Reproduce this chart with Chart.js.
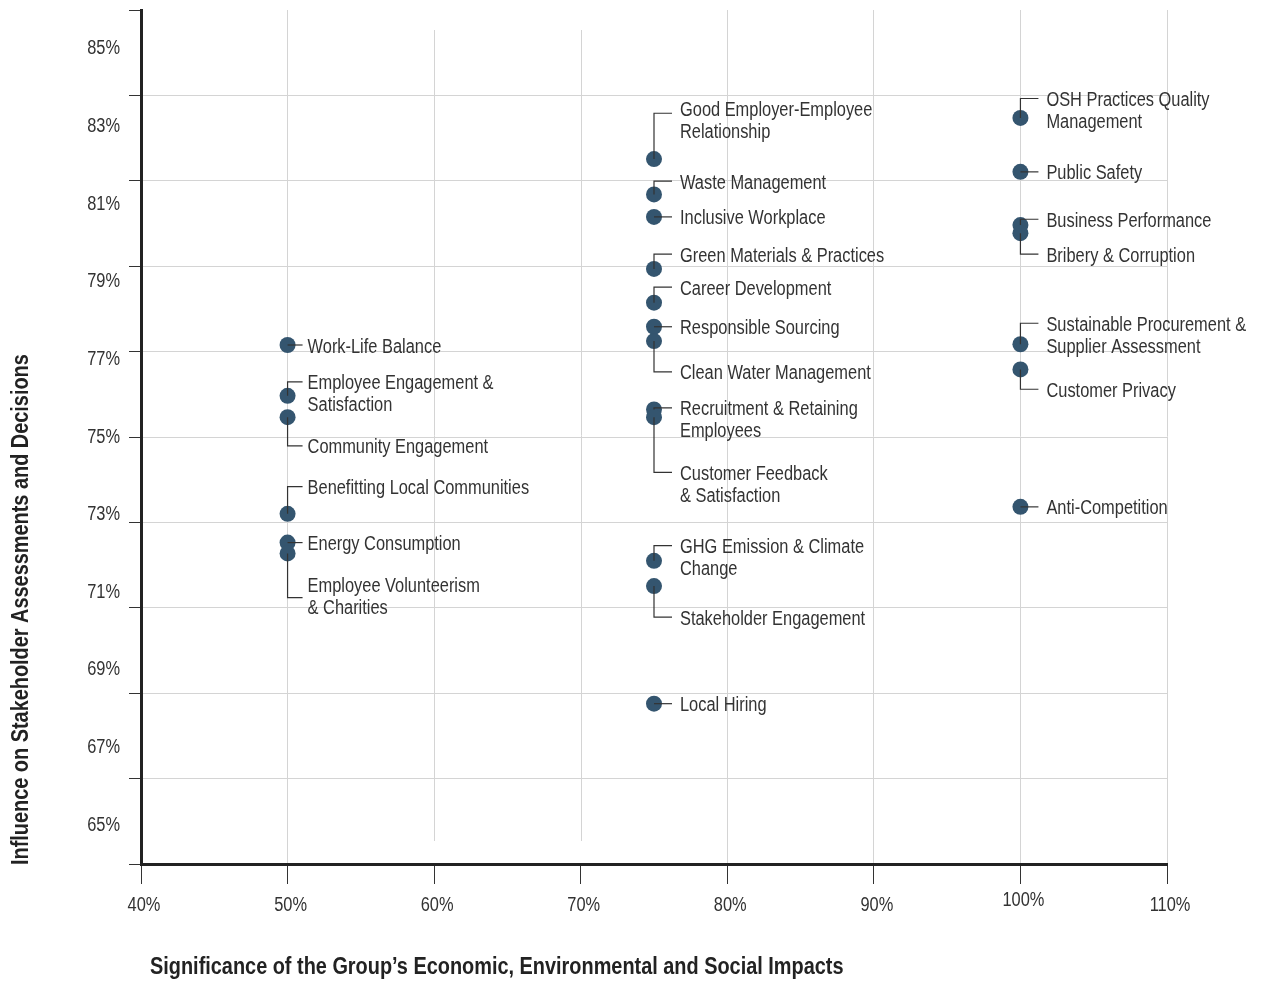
<!DOCTYPE html>
<html>
<head>
<meta charset="utf-8">
<script src="https://cdn.jsdelivr.net/npm/chart.js@4.4.1/dist/chart.umd.min.js"></script>
<style>
  html, body { margin: 0; padding: 0; background: #fff; }
  #wrap { width: 1261px; height: 981px; position: relative; }
</style>
</head>
<body>
<div id="wrap"><canvas id="chart"></canvas></div>
<script>
// ================= DATA =================
const topics = [
  "Work-Life Balance",
  "Employee Engagement &\nSatisfaction",
  "Community Engagement",
  "Benefitting Local Communities",
  "Energy Consumption",
  "Employee Volunteerism\n& Charities",
  "Good Employer-Employee\nRelationship",
  "Waste Management",
  "Inclusive Workplace",
  "Green Materials & Practices",
  "Career Development",
  "Responsible Sourcing",
  "Clean Water Management",
  "Recruitment & Retaining\nEmployees",
  "Customer Feedback\n& Satisfaction",
  "GHG Emission & Climate\nChange",
  "Stakeholder Engagement",
  "Local Hiring",
  "OSH Practices Quality\nManagement",
  "Public Safety",
  "Business Performance",
  "Bribery & Corruption",
  "Sustainable Procurement &\nSupplier Assessment",
  "Customer Privacy",
  "Anti-Competition"
];

// significance of impacts (x, %)
const significance = [
  50, 50, 50, 50, 50, 50,
  75, 75, 75, 75, 75, 75, 75, 75, 75, 75, 75, 75,
  100, 100, 100, 100, 100, 100, 100
];

// influence on stakeholders (y, %)
const influence = [
  77.37, 76.06, 75.51, 73.02, 72.28, 72.00,
  82.16, 81.25, 80.67, 79.33, 78.46, 77.84, 77.47, 75.71, 75.51, 71.81, 71.16, 68.13,
  83.22, 81.83, 80.46, 80.25, 77.39, 76.74, 73.20
];

// where each callout label sits (y, %)
const labelAt = [
  77.37, 76.42, 74.77, 73.72, 72.28, 70.86,
  83.34, 81.59, 80.67, 79.71, 78.86, 77.84, 76.68, 75.75, 74.09, 72.20, 70.36, 68.13,
  83.72, 81.83, 80.61, 79.71, 77.93, 76.23, 73.20
];

const xTicks = [40, 50, 60, 70, 80, 90, 100, 110];
const yTickLabels = [65, 67, 69, 71, 73, 75, 77, 79, 81, 83, 85];
const yGridLines = [64, 66.2, 68.4, 70.6, 72.8, 75, 77.2, 79.4, 81.6, 83.8, 86];

const xTitle = "Significance of the Group\u2019s Economic, Environmental and Social Impacts";
const yTitle = "Influence on Stakeholder Assessments and Decisions";

// ================= STYLE =================
// no condensed font installed -> squeeze Liberation Sans horizontally
const FONT = "'Liberation Sans', Arial, sans-serif";
const SQUEEZE = 0.82;
const TEXT = "#333";
const GRID = "#d4d4d4";
const DOT = "#34556f";
const labelNudge = {
  "Employee Volunteerism\n& Charities": -13,
  "Good Employer-Employee\nRelationship": -5
};
// connector length / text offset per column
const calloutGap = { 50: [15, 20], 75: [18, 26], 100: [18, 26] };
const xTickNudge = { 100: -5 };

const near = (a, b) => Math.abs(a - b) < 0.001;
const isGridY = v => yGridLines.some(g => near(g, v));

const allY = [...new Set([...yGridLines, ...yTickLabels])].sort((a, b) => a - b);

function narrowText(ctx, text, x, y, align, font, squeeze) {
  ctx.save();
  ctx.font = font;
  ctx.textBaseline = "middle";
  ctx.textAlign = align;
  ctx.translate(x, y);
  ctx.scale(squeeze, 1);
  ctx.fillText(text, 0, 0);
  ctx.restore();
}

// ================= PLUGINS =================
const decorPlugin = {
  id: "decor",
  beforeDatasetsDraw(chart) {
    const { ctx, chartArea, scales: { x } } = chart;
    // the 60% / 70% gridlines are shorter in the original
    ctx.save();
    ctx.strokeStyle = GRID;
    ctx.lineWidth = 1;
    [60, 70].forEach(v => {
      const px = Math.round(x.getPixelForValue(v)) + 0.5;
      ctx.beginPath();
      ctx.moveTo(px, chartArea.top + 20);
      ctx.lineTo(px, chartArea.bottom - 23);
      ctx.stroke();
    });
    ctx.restore();
  },
  afterDatasetsDraw(chart) {
    const { ctx, scales: { x, y } } = chart;
    ctx.save();
    ctx.strokeStyle = TEXT;
    ctx.lineWidth = 1.2;
    ctx.fillStyle = TEXT;
    topics.forEach((name, i) => {
      const px = x.getPixelForValue(significance[i]);
      const py = y.getPixelForValue(influence[i]);
      const ly = y.getPixelForValue(labelAt[i]);
      const [lineLen, textOff] = calloutGap[significance[i]];
      ctx.beginPath();
      ctx.moveTo(px, py);
      ctx.lineTo(px, ly);
      ctx.lineTo(px + lineLen, ly);
      ctx.stroke();
      const ty = ly + 2 + (labelNudge[name] || 0);
      name.split("\n").forEach((line, k) =>
        narrowText(ctx, line, px + textOff, ty + k * 22, "left", "20px " + FONT, SQUEEZE));
    });
    ctx.restore();
  },
  afterDraw(chart) {
    const { ctx, chartArea, scales: { x, y } } = chart;
    ctx.save();
    // tick labels
    ctx.fillStyle = TEXT;
    yTickLabels.forEach(v =>
      narrowText(ctx, v + "%", chartArea.left - 21, y.getPixelForValue(v), "right", "20px " + FONT, SQUEEZE));
    xTicks.forEach(v =>
      narrowText(ctx, v + "%", x.getPixelForValue(v) + 3, chartArea.bottom + 41 + (xTickNudge[v] || 0), "center", "20px " + FONT, SQUEEZE));
    // axis titles
    ctx.fillStyle = "#222";
    narrowText(ctx, xTitle, chartArea.left + 9, 968, "left", "bold 23px " + FONT, 0.865);
    ctx.translate(22, chartArea.bottom + 1);
    ctx.rotate(-Math.PI / 2);
    narrowText(ctx, yTitle, 0, 0, "left", "bold 23px " + FONT, 0.865);
    ctx.restore();
  }
};

// ================= CHART =================
const ctx = document.getElementById("chart").getContext("2d");

new Chart(ctx, {
  type: "scatter",
  data: {
    datasets: [{
      data: topics.map((t, i) => ({ x: significance[i], y: influence[i] })),
      pointRadius: 8,
      pointHoverRadius: 8,
      backgroundColor: DOT,
      borderWidth: 0
    }]
  },
  options: {
    responsive: true,
    maintainAspectRatio: false,
    animation: false,
    events: [],
    layout: { padding: { top: 10, right: 94, left: 0, bottom: 0 } },
    plugins: { legend: { display: false }, tooltip: { enabled: false } },
    scales: {
      x: {
        type: "linear",
        min: 40,
        max: 110,
        afterBuildTicks: s => { s.ticks = xTicks.map(v => ({ value: v })); },
        afterFit: s => { s.height = 117; },
        grid: {
          color: c => (c.tick && [40, 60, 70].includes(c.tick.value)) ? "rgba(0,0,0,0)" : GRID,
          tickColor: "#333",
          tickLength: 20,
          lineWidth: 1
        },
        border: { color: "#222", width: 3 },
        ticks: { display: false }
      },
      y: {
        min: 64,
        max: 86,
        afterBuildTicks: s => { s.ticks = allY.map(v => ({ value: v })); },
        afterFit: s => { s.width = 141; },
        grid: {
          color: c => {
            if (!c.tick) return GRID;
            const v = c.tick.value;
            return (isGridY(v) && v > 64.01 && v < 85.99) ? GRID : "rgba(0,0,0,0)";
          },
          tickColor: c => (c.tick && isGridY(c.tick.value)) ? "#333" : "rgba(0,0,0,0)",
          tickLength: 12,
          lineWidth: 1
        },
        border: { color: "#222", width: 3 },
        ticks: { display: false }
      }
    }
  },
  plugins: [decorPlugin]
});
</script>
</body>
</html>
